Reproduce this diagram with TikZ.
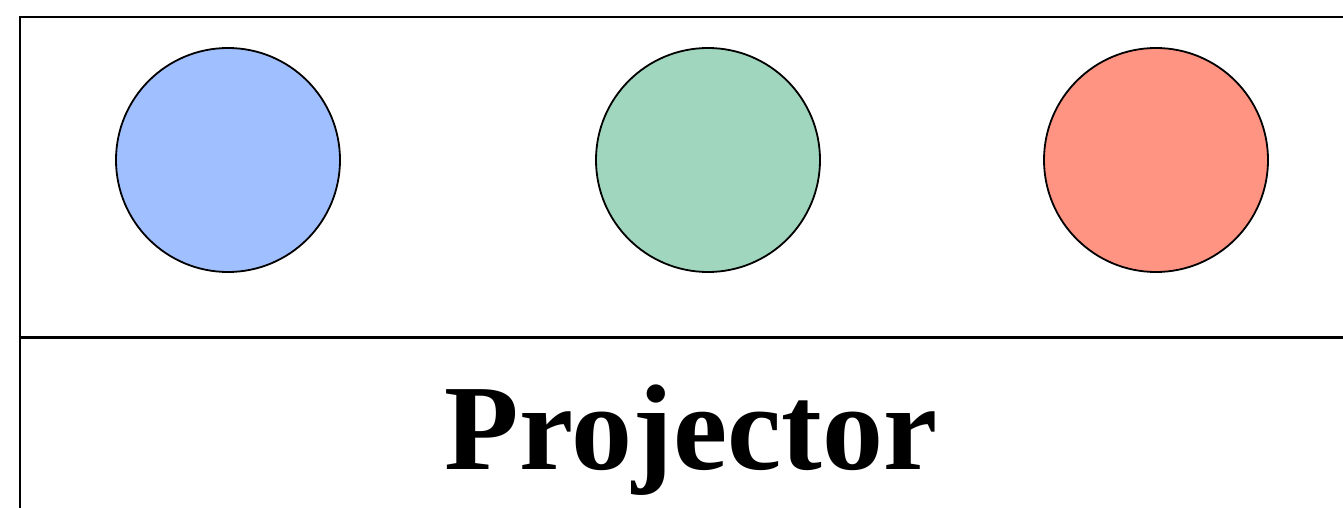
\documentclass[tikz,border=0pt]{standalone}
\usepackage{fontspec}
\setmainfont{Liberation Serif}
\definecolor{cblue}{HTML}{A0BFFF}
\definecolor{cgreen}{HTML}{A0D5BE}
\definecolor{cred}{HTML}{FF9483}
\begin{document}
\begin{tikzpicture}[x=1pt,y=-1pt,
  dot/.style={circle,draw=black,line width=1.8pt,minimum size=224pt,inner sep=0pt},
  frame/.style={draw=black,line width=2.2pt},
  label/.style={font=\fontsize{122}{122}\selectfont\bfseries,inner sep=0pt,anchor=base}]
\useasboundingbox (0,0) rectangle (1343,508);
\coordinate (tl) at (20,17);
\coordinate (tr) at (1345,17);
\coordinate (ml) at (20,337);
\coordinate (mr) at (1345,337);
\coordinate (bl) at (20,510);
\draw[frame] (tr) -- (tl) -- (bl);
\draw[frame,line width=3pt] (ml) -- (mr);
\node[dot,fill=cblue] (blue) at (228,160) {};
\node[dot,fill=cgreen] (green) at (708,160) {};
\node[dot,fill=cred] (red) at (1156,160) {};
\node[label] (proj) at (691,469) {Projector};
\end{tikzpicture}
\end{document}
